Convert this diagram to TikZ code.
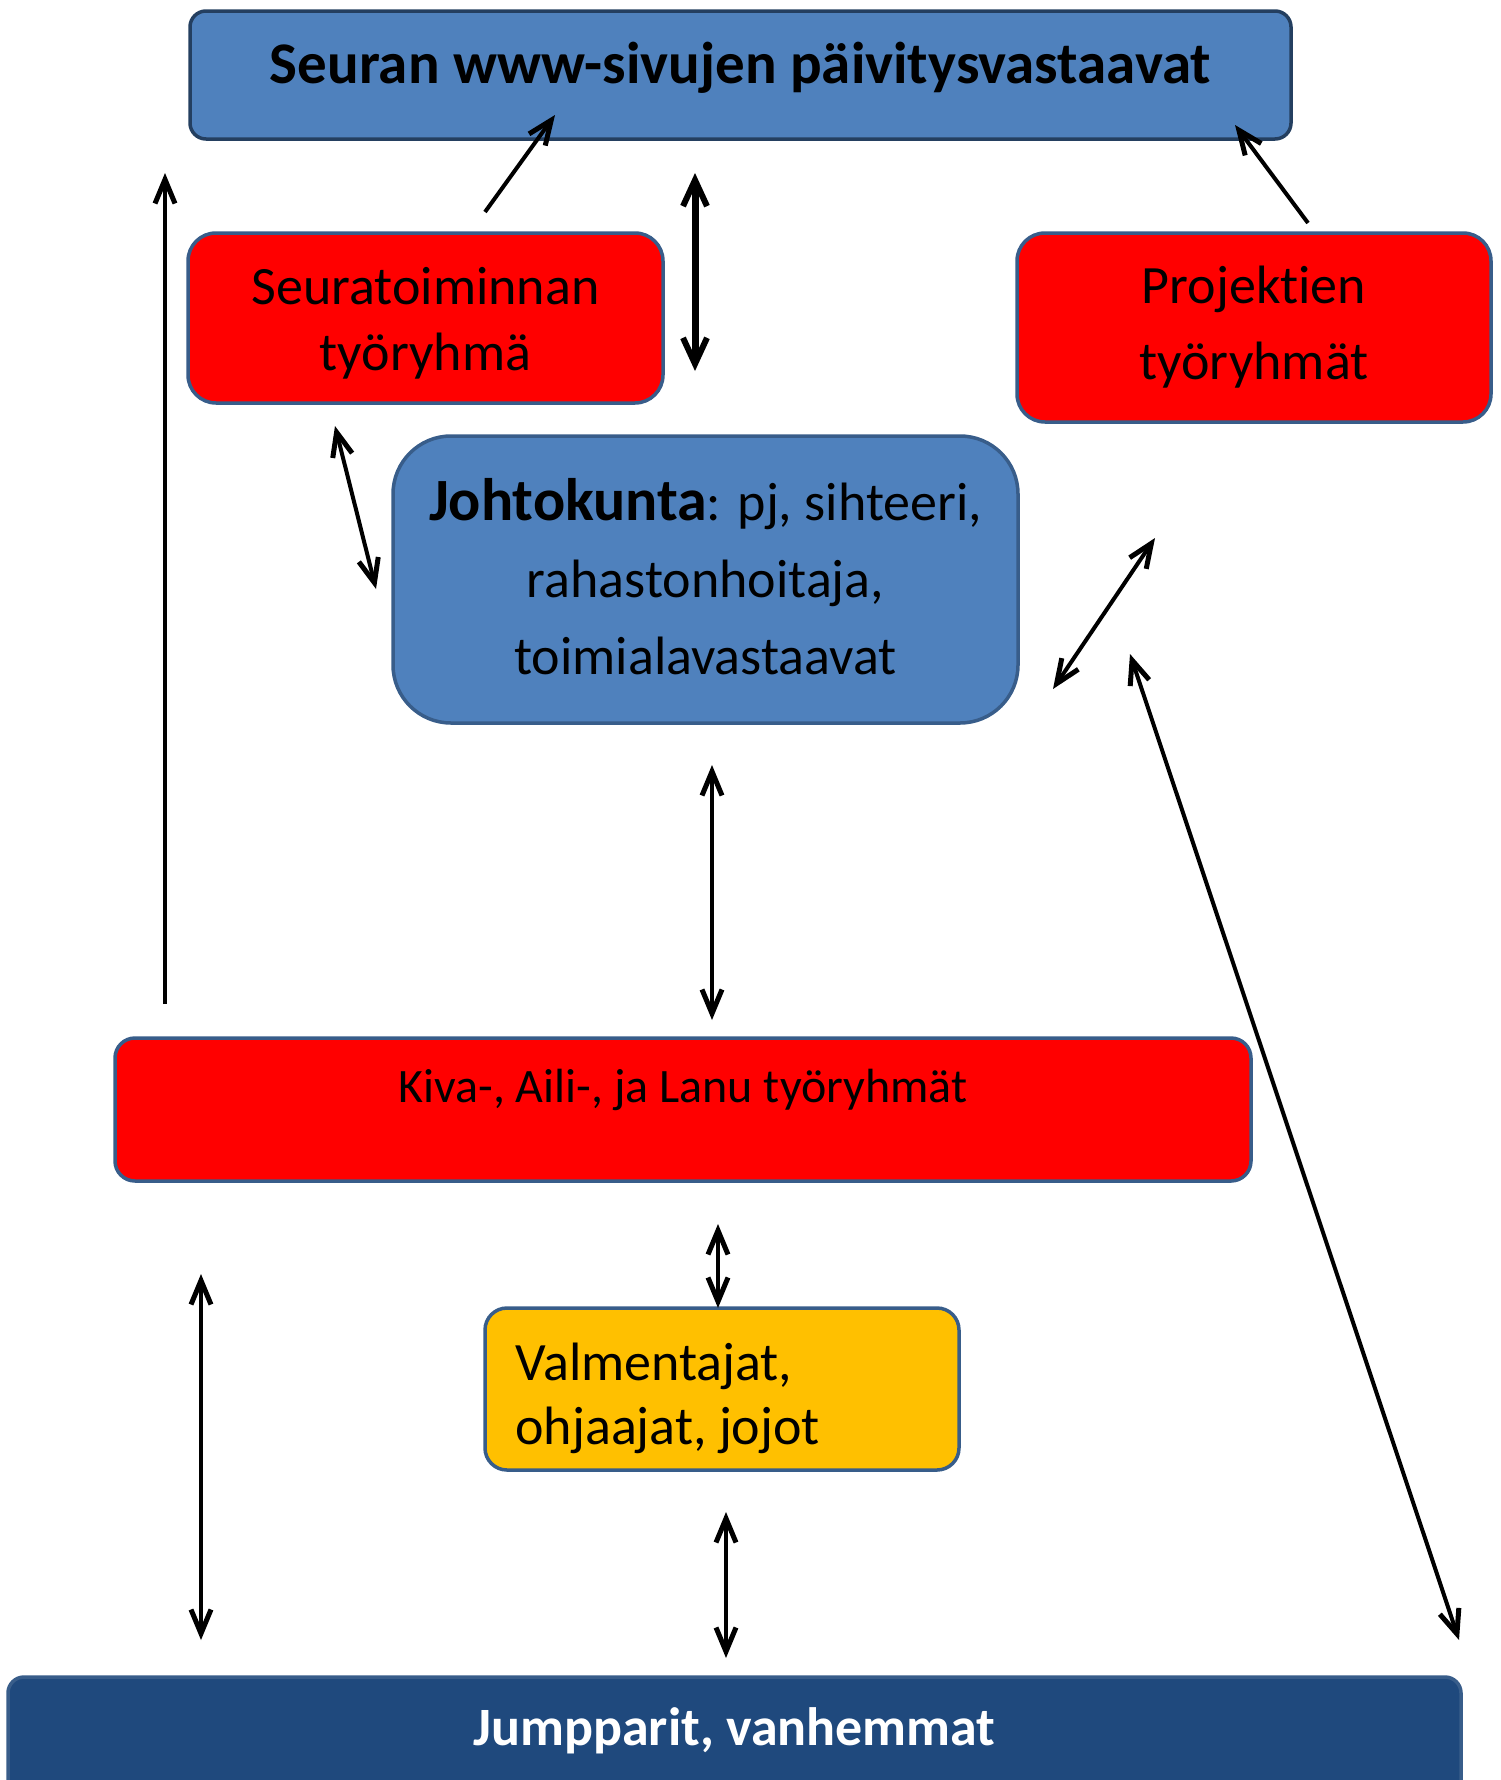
\documentclass[tikz,border=0pt]{standalone}
\usepackage{fontspec}
\setmainfont{Carlito}[Ligatures=NoCommon]
\usetikzlibrary{arrows.meta}
\definecolor{bluefill}{HTML}{4F81BD}
\definecolor{blueedge}{HTML}{385D8A}
\definecolor{darkedge}{HTML}{243F60}
\definecolor{navyfill}{HTML}{1F497D}
\definecolor{orangefill}{HTML}{FFC000}
\definecolor{redfill}{HTML}{FF0000}
\tikzset{
  box/.style={draw=blueedge, line width=3.5pt, inner sep=0pt, outer sep=0pt, align=center},
  arr/.style={line width=4pt, -{Straight Barb[length=24pt,width=20pt,line width=5pt]}},
  darr/.style={line width=4pt, {Straight Barb[length=24pt,width=20pt,line width=5pt]}-{Straight Barb[length=24pt,width=20pt,line width=5pt]}},
  thickdarr/.style={line width=7pt, {Straight Barb[length=26pt,width=24pt,line width=6pt]}-{Straight Barb[length=26pt,width=24pt,line width=6pt]}},
}
\begin{document}
\begin{tikzpicture}[x=1pt,y=-1pt]
\clip (0,0) rectangle (1501,1780);
\fill[white] (0,0) rectangle (1501,1780);
% boxes
\node[box, draw=darkedge, fill=bluefill, rounded corners=16pt, minimum width=1101pt, minimum height=128pt] (www) at (740.5,75) {};
\node[font=\fontsize{59}{66}\selectfont\bfseries] (wwwtxt) at (740.5,68) {Seuran www-sivujen päivitysvastaavat};
\node[box, fill=redfill, rounded corners=28pt, minimum width=475pt, minimum height=170pt] (seura) at (425.5,318) {};
\node[font=\fontsize{54}{66}\selectfont, align=center] (seuratxt) at (425.5,323) {Seuratoiminnan\\työryhmä};
\node[box, fill=redfill, rounded corners=28pt, minimum width=474pt, minimum height=189pt,
      font=\fontsize{54}{76}\selectfont] (proj) at (1254,327.5) {Projektien\\työryhmät};
\node[box, fill=bluefill, rounded corners=58pt, minimum width=625pt, minimum height=287pt] (johto) at (705.5,579.5) {};
\node[font=\fontsize{54}{77}\selectfont, align=center] (johtotxt) at (705.5,577) {{\fontsize{60}{77}\selectfont\bfseries Johtokunta}: pj, sihteeri,\\rahastonhoitaja,\\toimialavastaavat};
\node[box, fill=redfill, rounded corners=20pt, minimum width=1136pt, minimum height=143pt] (kiva) at (683,1109.5) {};
\node[font=\fontsize{48}{56}\selectfont, anchor=center] (kivatxt) at (683,1090) {Kiva-, Aili-, ja Lanu työryhmät};
\node[box, fill=orangefill, rounded corners=22pt, minimum width=474pt, minimum height=162pt] (valm) at (722,1389) {};
\node[font=\fontsize{54}{64}\selectfont, align=left, anchor=west] (valmtxt) at (512,1398) {Valmentajat,\\ohjaajat, jojot};
\node[box, fill=navyfill, rounded corners=16pt, minimum width=1453pt, minimum height=124pt] (jump) at (734.5,1739) {};
\node[text=white, font=\fontsize{54}{60}\selectfont\bfseries] (jumptxt) at (734.5,1731) {Jumpparit, vanhemmat};
% arrow end points
\coordinate (a1s) at (485,212);  \coordinate (a1e) at (555,115);
\coordinate (a2s) at (695,173);  \coordinate (a2e) at (695,371);
\coordinate (a3s) at (1308,223); \coordinate (a3e) at (1235,125);
\coordinate (a4s) at (165,1004); \coordinate (a4e) at (165,173);
\coordinate (a5s) at (335,426);  \coordinate (a5e) at (376,589);
\coordinate (a6s) at (1155,538); \coordinate (a6e) at (1053,689);
\coordinate (a7s) at (712,765);  \coordinate (a7e) at (712,1020);
\coordinate (a8s) at (1130,654); \coordinate (a8e) at (1459,1640);
\coordinate (a9s) at (718,1224);
\coordinate (a10s) at (201,1274); \coordinate (a10e) at (201,1640);
\coordinate (a11s) at (726,1512); \coordinate (a11e) at (726,1658);
% arrows
\draw[arr] (a1s) -- (a1e);
\draw[thickdarr] (a2s) -- (a2e);
\draw[arr] (a3s) -- (a3e);
\draw[arr] (a4s) -- (a4e);
\draw[darr] (a5s) -- (a5e);
\draw[darr] (a6s) -- (a6e);
\draw[darr] (a7s) -- (a7e);
\draw[darr] (a8s) -- (a8e);
\draw[darr] (a9s) -- (valm.north -| a9s);
\draw[darr] (a10s) -- (a10e);
\draw[darr] (a11s) -- (a11e);
\end{tikzpicture}
\end{document}
